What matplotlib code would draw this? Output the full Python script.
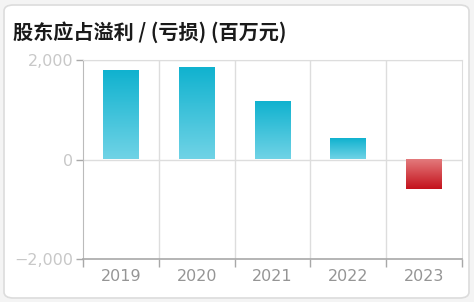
import matplotlib

matplotlib.use("Agg")
import matplotlib.pyplot as plt
import numpy as np
from matplotlib.colors import LinearSegmentedColormap
from matplotlib.patches import FancyBboxPatch

plt.rcParams["font.family"] = ["Noto Sans CJK SC", "DejaVu Sans"]

years = ["2019", "2020", "2021", "2022", "2023"]
profit = [1770, 1835, 1150, 415, -600]
y_ticks = [-2000, 0, 2000]
y_tick_labels = ["\u22122,000", "0", "2,000"]
title = "股东应占溢利 / (亏损) (百万元)"

W, H = 474, 302
fig = plt.figure(figsize=(W / 100, H / 100), dpi=100)
fig.patch.set_facecolor("#f4f4f4")

# Card background with soft border (kept behind the axes).
card = FancyBboxPatch(
    (4 / W, 4 / H), 465 / W, 293 / H,
    boxstyle="round,pad=0,rounding_size=0.02",
    transform=fig.transFigure, facecolor="white", edgecolor="#dcdcdc", lw=1.2,
    zorder=-5,
)
fig.patches.append(card)

fig.text(13 / W, 1 - 32 / H, title, fontsize=14.5, fontweight="bold",
         color="#1a1a1a", va="center", ha="left")

left, right, top, bottom = 83, 462, 60, 259
ax = fig.add_axes([left / W, 1 - bottom / H, (right - left) / W, (bottom - top) / H])
ax.set_facecolor("none")

x = np.arange(len(years))
bars = ax.bar(x, profit, width=0.47, color="none", zorder=3)

blue = LinearSegmentedColormap.from_list("blue", ["#70d3e6", "#10b2cf"])
red = LinearSegmentedColormap.from_list("red", ["#e37a7c", "#c4121c"])
grad = np.linspace(0, 1, 256).reshape(-1, 1)
for rect, val in zip(bars, profit):
    x0, w = rect.get_x(), rect.get_width()
    if val >= 0:
        ax.imshow(grad, cmap=blue, origin="lower", aspect="auto",
                  extent=(x0, x0 + w, 0, val), zorder=3)
    else:
        ax.imshow(grad, cmap=red, origin="upper", aspect="auto",
                  extent=(x0, x0 + w, val, 0), zorder=3)

ax.set_xlim(-0.5, len(years) - 0.5)
ax.set_ylim(-2000, 2000)

# Grid: horizontal at 0 and 2000, vertical at category boundaries.
for yv in [0, 2000]:
    ax.axhline(yv, color="#dddddd", lw=1, zorder=1)
for b in np.arange(0.5, len(years) - 0.5, 1):
    ax.axvline(b, color="#dddddd", lw=1, zorder=1)

ax.set_yticks(y_ticks)
ax.set_yticklabels(y_tick_labels, family="DejaVu Sans")
ax.set_xticks(x)
ax.set_xticklabels(years, family="DejaVu Sans")
ax.set_xticks(np.arange(-0.5, len(years), 1), minor=True)
ax.tick_params(axis="x", which="major", length=0, pad=7, labelsize=11.5, labelcolor="#959595")
ax.tick_params(axis="x", which="minor", length=6, width=1, color="#a8a8a8", direction="out")
ax.tick_params(axis="y", length=5, width=1, color="#a8a8a8", pad=2, labelsize=11.5,
               labelcolor="#c8c8c8")

for side in ["top", "right"]:
    ax.spines[side].set_color("#dddddd")
ax.spines["left"].set_color("#bbbbbb")
ax.spines["bottom"].set_color("#a8a8a8")
ax.spines["bottom"].set_linewidth(1.2)

fig.savefig("out.png", dpi=100)
